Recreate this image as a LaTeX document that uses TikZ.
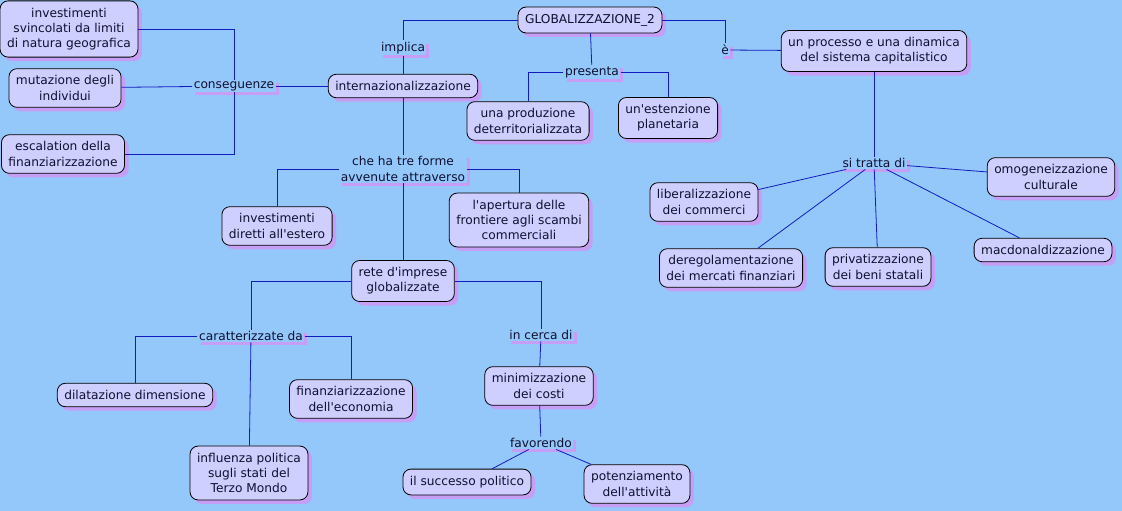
\documentclass[tikz,border=0pt]{standalone}
\usepackage{fontspec}
\setmainfont{DejaVu Sans}[Ligatures=TeXOff]
\usetikzlibrary{shadows}
\definecolor{sfondo}{RGB}{148,199,250}
\definecolor{riemp}{RGB}{206,206,255}
\definecolor{ombra}{RGB}{198,158,245}
\definecolor{linea}{RGB}{18,28,190}
\definecolor{testo}{RGB}{16,16,48}

\begin{document}
\begin{tikzpicture}[x=1pt,y=-1pt,
    font=\fontsize{12.2}{15.2}\selectfont,text=testo,
    concetto/.style={draw=black,fill=riemp,rounded corners=8pt,align=center,
      inner xsep=7pt,inner ysep=7pt,line width=0.8pt,
      drop shadow={shadow xshift=4pt,shadow yshift=-4pt,fill=ombra,opacity=1}},
    legame/.style={fill=sfondo,align=center,inner sep=1.5pt,
      drop shadow={shadow xshift=3pt,shadow yshift=-3pt,fill=ombra,opacity=1}},
    conn/.style={draw=linea,line width=0.8pt}]
  \fill[sfondo] (0,0) rectangle (1122,511);
  \useasboundingbox (0,0) rectangle (1122,511);

  % concetti
  \node[concetto] (glob) at (590,20) {GLOBALIZZAZIONE\_2};
  \node[concetto] (int) at (403,86) {internazionalizzazione};
  \node[concetto] (prod) at (528,121) {una produzione\\deterritorializzata};
  \node[concetto] (est) at (668,118) {un'estenzione\\planetaria};
  \node[concetto] (proc) at (874,51) {un processo e una dinamica\\del sistema capitalistico};
  \node[concetto] (svin) at (69,29) {investimenti\\svincolati da limiti\\di natura geografica};
  \node[concetto] (mut) at (65,88) {mutazione degli\\individui};
  \node[concetto] (esc) at (63,154) {escalation della\\finanziarizzazione};
  \node[concetto] (dir) at (277,226) {investimenti\\diretti all'estero};
  \node[concetto] (ape) at (519,220) {l'apertura delle\\frontiere agli scambi\\commerciali};
  \node[concetto] (rete) at (403,281) {rete d'imprese\\globalizzate};
  \node[concetto] (dil) at (135,395) {dilatazione dimensione};
  \node[concetto] (fin) at (351,399) {finanziarizzazione\\dell'economia};
  \node[concetto] (inf) at (249,473) {influenza politica\\sugli stati del\\Terzo Mondo};
  \node[concetto] (min) at (539,386) {minimizzazione\\dei costi};
  \node[concetto] (succ) at (467,482) {il successo politico};
  \node[concetto] (pot) at (637,484) {potenziamento\\dell'attività};
  \node[concetto] (lib) at (704,202) {liberalizzazione\\dei commerci};
  \node[concetto] (dereg) at (731,268) {deregolamentazione\\dei mercati finanziari};
  \node[concetto] (priv) at (878,267) {privatizzazione\\dei beni statali};
  \node[concetto] (omo) at (1051,177) {omogeneizzazione\\culturale};
  \node[concetto] (mac) at (1043,250) {macdonaldizzazione};

  % frasi legame
  \node[legame] (impl) at (403,48) {implica};
  \node[legame] (pres) at (592,72) {presenta};
  \node[legame] (e) at (725,50) {è};
  \node[legame] (cons) at (234,86) {conseguenze};
  \node[legame] (tre) at (403,169) {che ha tre forme\\avvenute attraverso};
  \node[legame] (car) at (251,336) {caratterizzate da};
  \node[legame] (cerca) at (541,335) {in cerca di};
  \node[legame] (fav) at (541,443) {favorendo};
  \node[legame] (si) at (874,163) {si tratta di};

  \draw[conn] (glob) -| (impl);
  \draw[conn] (impl) -- (int);
  \draw[conn] (glob) -| (e);
  \draw[conn] (e) -- (proc);
  \draw[conn] (glob) -- (pres);
  \draw[conn] (pres) -| (prod);
  \draw[conn] (pres) -| (est);
  \draw[conn] (int) -- (cons);
  \draw[conn] (cons) |- (svin);
  \draw[conn] (cons) -- (mut);
  \draw[conn] (cons) |- (esc);
  \draw[conn] (int) -- (tre);
  \draw[conn] (tre) -| (dir);
  \draw[conn] (tre) -| (ape);
  \draw[conn] (tre) -- (rete);
  \draw[conn] (rete) -| (car);
  \draw[conn] (car) -| (dil);
  \draw[conn] (car) -| (fin);
  \draw[conn] (car) -- (inf);
  \draw[conn] (rete) -| (cerca);
  \draw[conn] (cerca) -- (min);
  \draw[conn] (min) -- (fav);
  \draw[conn] (fav) -- (succ);
  \draw[conn] (fav) -- (pot);
  \draw[conn] (proc) -- (si);
  \draw[conn] (si) -- (lib);
  \draw[conn] (si) -- (dereg);
  \draw[conn] (si) -- (priv);
  \draw[conn] (si) -- (mac);
  \draw[conn] (si) -- (omo);
\end{tikzpicture}
\end{document}
